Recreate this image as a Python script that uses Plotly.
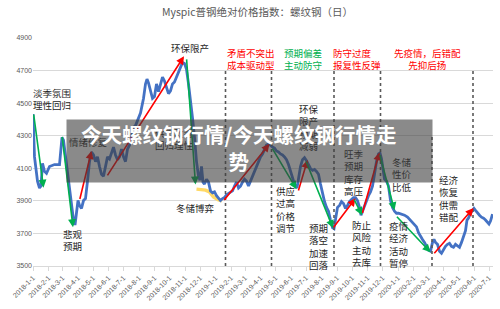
import plotly.graph_objects as go

# ---------------- data ----------------
dates = [
    "2018-01-01","2018-01-04","2018-01-10","2018-01-14","2018-01-17","2018-01-20","2018-01-24","2018-01-28",
    "2018-02-03","2018-02-13","2018-02-23","2018-02-26","2018-02-28","2018-03-03","2018-03-07","2018-03-11",
    "2018-03-15","2018-03-19","2018-03-23","2018-03-26","2018-03-29","2018-04-01","2018-04-04","2018-04-08",
    "2018-04-12","2018-04-16","2018-04-20","2018-04-24","2018-04-28","2018-05-02","2018-05-06","2018-05-10",
    "2018-05-14","2018-05-18","2018-05-22","2018-05-26","2018-05-30","2018-06-03","2018-06-07","2018-06-11",
    "2018-06-15","2018-06-19","2018-06-23","2018-06-27","2018-07-01","2018-07-05","2018-07-09","2018-07-13",
    "2018-07-17","2018-07-21","2018-07-25","2018-07-29","2018-08-04","2018-08-10","2018-08-14","2018-08-17",
    "2018-08-20","2018-08-24","2018-08-28","2018-09-01","2018-09-05","2018-09-09","2018-09-13","2018-09-17",
    "2018-09-21","2018-09-25","2018-09-29","2018-10-03","2018-10-07","2018-10-11","2018-10-15","2018-10-19",
    "2018-10-23","2018-10-27","2018-10-31","2018-11-04","2018-11-08","2018-11-12","2018-11-16","2018-11-20",
    "2018-11-24","2018-11-28","2018-12-01","2018-12-04","2018-12-07","2018-12-10","2018-12-14","2018-12-18",
    "2018-12-22","2018-12-26","2018-12-30","2019-01-03","2019-01-07","2019-01-11","2019-01-15","2019-01-19",
    "2019-01-23","2019-01-27","2019-01-31","2019-02-04","2019-02-08","2019-02-12","2019-02-16","2019-02-20",
    "2019-02-24","2019-02-28","2019-03-04","2019-03-08","2019-03-12","2019-03-16","2019-03-20","2019-03-24",
    "2019-03-28","2019-04-01","2019-04-05","2019-04-09","2019-04-13","2019-04-17","2019-04-21","2019-04-25",
    "2019-04-29","2019-05-03","2019-05-07","2019-05-11","2019-05-15","2019-05-19","2019-05-23","2019-05-27",
    "2019-05-31","2019-06-04","2019-06-08","2019-06-13","2019-06-16","2019-06-20","2019-06-24","2019-06-28",
    "2019-07-02","2019-07-06","2019-07-10","2019-07-14","2019-07-18","2019-07-22","2019-07-26","2019-07-30",
    "2019-08-03","2019-08-07","2019-08-11","2019-08-15","2019-08-19","2019-08-23","2019-08-26","2019-08-29",
    "2019-09-02","2019-09-06","2019-09-10","2019-09-14","2019-09-18","2019-09-22","2019-09-26","2019-09-30",
    "2019-10-04","2019-10-08","2019-10-12","2019-10-16","2019-10-19","2019-10-22","2019-10-26","2019-10-30",
    "2019-11-03","2019-11-07","2019-11-11","2019-11-15","2019-11-19","2019-11-23","2019-11-26","2019-11-29",
    "2019-12-02","2019-12-05","2019-12-09","2019-12-13","2019-12-17","2019-12-21","2019-12-25","2019-12-29",
    "2020-01-02","2020-01-08","2020-01-14","2020-01-20","2020-01-26","2020-02-01","2020-02-07","2020-02-11",
    "2020-02-15","2020-02-19","2020-02-23","2020-02-27","2020-03-02","2020-03-06","2020-03-10","2020-03-13",
    "2020-03-16","2020-03-20","2020-03-24","2020-03-28","2020-04-01","2020-04-05","2020-04-09","2020-04-13",
    "2020-04-17","2020-04-21","2020-04-25","2020-04-29","2020-05-03","2020-05-07","2020-05-11","2020-05-15",
    "2020-05-18","2020-05-21","2020-05-25","2020-05-29","2020-06-01","2020-06-04","2020-06-08","2020-06-12",
    "2020-06-16","2020-06-20","2020-06-24","2020-06-28","2020-07-01","2020-07-04","2020-07-08",
]
values = [
    4433,4170,4021,3979,3991,4130,4081,4069,
    4111,4123,4123,4230,4290,4272,4170,4081,
    4003,3902,3782,3752,3812,3902,3872,3854,
    3902,3914,4021,4141,4200,4182,4141,4170,
    4111,4063,4051,4123,4170,4158,4200,4230,
    4182,4153,4170,4218,4170,4141,4218,4242,
    4290,4350,4362,4397,4439,4529,4618,4648,
    4624,4576,4529,4541,4618,4570,4618,4660,
    4636,4600,4558,4576,4618,4630,4660,4696,
    4726,4750,4744,4708,4618,4529,4409,4290,
    4141,4051,4027,4111,4015,4003,4033,4015,
    3961,3949,3955,3932,3914,3902,3914,3920,
    3938,3944,3950,3961,3991,4015,3979,3991,
    4015,4033,4021,3991,4021,4051,4081,4111,
    4141,4170,4188,4218,4242,4248,4242,4230,
    4224,4206,4200,4188,4182,4170,4153,4123,
    4081,4039,4003,3979,4039,4111,4153,4165,
    4147,4123,4099,4087,4093,4081,4063,4003,
    3944,3896,3860,3836,3782,3735,3729,3800,
    3860,3872,3896,3884,3854,3872,3896,3908,
    3920,3920,3902,3860,3812,3836,3872,3902,
    3932,3955,3991,4063,4141,4188,4194,4158,
    4081,4033,4021,3991,3902,3860,3836,3824,
    3824,3818,3812,3800,3782,3764,3740,3705,
    3681,3663,3645,3615,3597,3591,3645,3663,
    3645,3633,3591,3579,3603,3621,3633,3639,
    3621,3615,3633,3621,3615,3645,3681,3717,
    3782,3794,3824,3842,3854,3842,3824,3812,
    3800,3794,3782,3764,3758,3776,3818,
]

# yellow "winter storage" band
yellow_dates = ["2018-11-24","2018-12-12","2018-12-20","2018-12-28","2019-01-06","2019-01-14"]
yellow_values = [3972, 3966, 3955, 3925, 3908, 3900]

# red (up) arrows: tail -> head
red_x0 = ["2018-04-04","2018-05-28","2019-01-16","2019-06-15","2019-08-23","2019-10-21","2020-03-11"]
red_y0 = [3902, 4047, 3896, 3955, 3729, 3816, 3569]
red_x1 = ["2018-04-28","2018-10-30","2019-04-19","2019-07-04","2019-10-08","2019-11-25","2020-05-31"]
red_y1 = [4206, 4788, 4250, 4151, 3916, 4198, 3856]

# green (down) arrows: tail -> head
green_x0 = ["2018-01-02","2018-02-28","2018-11-04","2019-04-23","2019-06-30","2019-10-04","2019-11-25","2019-12-27"]
green_y0 = [4439, 4302, 4778, 4230, 4151, 3916, 4190, 3812]
green_x1 = ["2018-01-22","2018-03-22","2018-11-22","2019-06-12","2019-08-24","2019-10-21","2019-12-25","2020-03-06"]
green_y1 = [3981, 3738, 4000, 3972, 3733, 3812, 3842, 3584]

# phase separators
phase_dates = ["2019-01-21","2019-04-23","2019-08-26","2019-11-27","2020-03-09","2020-05-30"]
phase_tops = [4700, 4700, 4700, 4700, 4300, 4700]

# text labels
black_labels = ["淡季氛围<br>理性回归", "环保限产", "情绪修复", "供需改善<br>回归理性", "冬储博弈",
                "悲观<br>预期", "环保<br>限产<br>预期<br>减弱", "供应<br>过高<br>价格<br>调节",
                "预期<br>落空<br>加速<br>回落", "旺季<br>预期<br>库存<br>高压", "防止<br>风险<br>主动<br>去库",
                "冬储<br>性价<br>比低", "疫情<br>经济<br>活动<br>暂停", "经济<br>恢复<br>供需<br>错配"]
black_x = ["2018-02-08","2018-11-11","2018-04-22","2018-10-11","2018-11-21",
           "2018-03-21","2019-07-06","2019-05-21","2019-07-26","2019-10-04","2019-10-21",
           "2020-01-08","2020-01-03","2020-04-11"]
black_y = [4523, 4839, 4260, 4278, 3854, 3657, 4349, 3845, 3621, 4074, 3636, 4060, 3635, 3914]

top_labels = ["矛盾不突出<br>成本驱动型", "预期偏差<br>主动防守", "防守过度<br>报复性反弹", "先疫情，后错配<br>先抑后扬"]
top_x = ["2019-03-12", "2019-06-25", "2019-10-11", "2020-02-29"]
top_y = [4772, 4772, 4772, 4772]
top_colors = ["#ff0000", "#00b050", "#ff0000", "#ff0000"]
top_align = ["center", "center", "left", "center"]

y_ticks = [3500, 3700, 3900, 4100, 4300, 4500, 4700, 4900]

title_text = "Myspic普钢绝对价格指数：螺纹钢（日）"
banner_text = "今天螺纹钢行情/今天螺纹钢行情走<br>势"

# ---------------- figure ----------------
CJK = "Noto Sans CJK SC"
fig = go.Figure()

fig.add_trace(go.Scatter(x=yellow_dates, y=yellow_values, mode="lines",
                         line=dict(color="#FFD966", width=3.5), hoverinfo="skip", showlegend=False))
fig.add_trace(go.Scatter(x=dates, y=values, mode="lines",
                         line=dict(color="#4472C4", width=2.8), showlegend=False))

shapes = []
for d, top in zip(phase_dates, phase_tops):
    shapes.append(dict(type="line", xref="x", yref="y", x0=d, x1=d, y0=3500, y1=top,
                       line=dict(color="#595959", width=1.6, dash="dot"), layer="above"))

annotations = []
for x0, y0, x1, y1 in zip(red_x0, red_y0, red_x1, red_y1):
    annotations.append(dict(x=x1, y=y1, ax=x0, ay=y0, xref="x", yref="y", axref="x", ayref="y",
                            showarrow=True, arrowhead=2, arrowsize=1.0, arrowwidth=1.6,
                            arrowcolor="#ff0000", text="", standoff=0))
for x0, y0, x1, y1 in zip(green_x0, green_y0, green_x1, green_y1):
    annotations.append(dict(x=x1, y=y1, ax=x0, ay=y0, xref="x", yref="y", axref="x", ayref="y",
                            showarrow=True, arrowhead=2, arrowsize=1.0, arrowwidth=1.6,
                            arrowcolor="#00b050", text="", standoff=0))
for t, x, y in zip(black_labels, black_x, black_y):
    annotations.append(dict(x=x, y=y, xref="x", yref="y", text=t, showarrow=False,
                            font=dict(family=CJK, size=9.5, color="#262626"),
                            xanchor="center", yanchor="middle", align="center"))
for t, x, y, c, a in zip(top_labels, top_x, top_y, top_colors, top_align):
    annotations.append(dict(x=x, y=y, xref="x", yref="y", text=t, showarrow=False,
                            font=dict(family=CJK, size=9.5, color=c),
                            xanchor="center", yanchor="middle", align=a))

# overlay banner
annotations.append(dict(x=0.4707, y=0.5043, xref="paper", yref="paper", text=" ", showarrow=False,
                        width=365, height=62, bgcolor="rgba(60,60,60,0.6)", borderpad=0,
                        xanchor="center", yanchor="middle"))
annotations.append(dict(x=0.4478, y=0.519, xref="paper", yref="paper",
                        text="<b>" + banner_text.replace("<br>", "</b><br><b>") + "</b>",
                        showarrow=False, font=dict(family=CJK, size=20.5, color="#ffffff"),
                        xanchor="center", yanchor="middle", align="center"))

fig.update_layout(
    width=500, height=309,
    margin=dict(l=33, r=7, t=38, b=37),
    paper_bgcolor="#ffffff", plot_bgcolor="#ffffff",
    title=dict(text=title_text, x=0.515, y=0.961, xanchor="center", yanchor="middle",
               font=dict(family=CJK, size=10.5, color="#595959")),
    shapes=shapes, annotations=annotations, showlegend=False,
    xaxis=dict(type="date", range=["2018-01-01", "2020-07-09"], tick0="2018-01-01", dtick="M1",
               tickformat="%Y-%-m-%-d", tickangle=-45, showgrid=False,
               showline=True, linecolor="#d9d9d9", linewidth=1,
               ticks="outside", ticklen=4, tickcolor="#d9d9d9",
               tickfont=dict(family="Liberation Sans, Arial", size=7, color="#595959")),
    yaxis=dict(range=[3500, 4900], tickvals=y_ticks, showgrid=True, gridcolor="#d9d9d9", gridwidth=1,
               zeroline=False, showline=False, ticks="",
               tickfont=dict(family="Liberation Sans, Arial", size=7, color="#595959")),
)

fig.write_html("out.html")
